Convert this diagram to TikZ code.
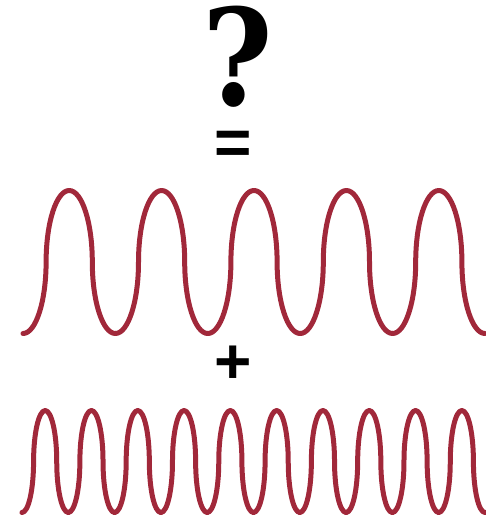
\documentclass[tikz,border=0pt]{standalone}
\usepackage{fontspec}
\newfontfamily\qfont{DejaVu Serif Condensed}
\newfontfamily\opfont{Liberation Sans}
\usepackage{tikz}
\definecolor{wavered}{HTML}{A1283A}
% one full cycle of the wave from bottom to bottom: x0, quarter, midline, amplitude
\newcommand{\wavecycle}[4]{%
  \draw[wave] ({#1},{#3+#4})
    .. controls +({0.5523*#2},0) and +(0,{0.5523*#4}) .. ({#1+#2},{#3})
    .. controls +(0,{-0.5523*#4}) and +({-0.5523*#2},0) .. ({#1+2*#2},{#3-#4})
    .. controls +({0.5523*#2},0) and +(0,{-0.5523*#4}) .. ({#1+3*#2},{#3})
    .. controls +(0,{0.5523*#4}) and +({-0.5523*#2},0) .. ({#1+4*#2},{#3+#4});}

\begin{document}
\begin{tikzpicture}[x=1pt, y=-1pt,
  wave/.style={draw=wavered, line width=5pt, line cap=round, line join=round},
  sign/.style={inner sep=0pt, text=black}]
\useasboundingbox (0,0) rectangle (485,519);
% labels
\node[sign, font=\qfont\bfseries\fontsize{134}{134}\selectfont] (q) at (237.5,57) {?};
\node[sign, font=\opfont\bfseries\fontsize{64}{64}\selectfont] (eq) at (233,147.5) {=};
\node[sign, font=\opfont\bfseries\fontsize{64}{64}\selectfont] (plus) at (233,364.5) {+};
% the two waves
\foreach \i in {0,...,4} \wavecycle{23+92.4*\i}{23.1}{262}{71.5};
\foreach \i in {0,...,9} \wavecycle{22+46.3*\i}{11.575}{461.5}{51};
\end{tikzpicture}
\end{document}
